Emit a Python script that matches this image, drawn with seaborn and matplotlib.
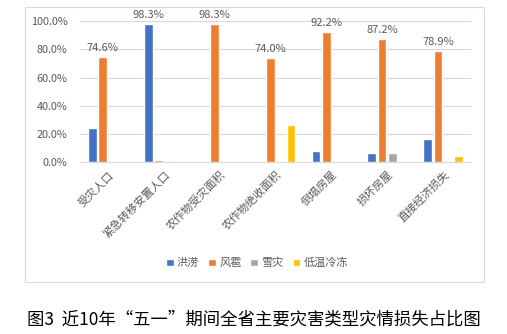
import pandas as pd
import numpy as np
import matplotlib as mpl
mpl.use('Agg')
import matplotlib.pyplot as plt
import seaborn as sns
from matplotlib.patches import Rectangle

categories = ['受灾人口', '紧急转移安置人口', '农作物受灾面积', '农作物绝收面积',
              '倒塌房屋', '损坏房屋', '直接经济损失']
hazards = ['洪涝', '风雹', '雪灾', '低温冷冻']
flood = [24.2, 98.3, 0.6, 0.0, 7.8, 6.4, 16.6]
wind = [74.6, 1.7, 98.3, 74.0, 92.2, 87.2, 78.9]
snow = [0.0, 0.0, 0.0, 0.0, 0.0, 6.4, 0.4]
cold = [0.6, 0.0, 0.6, 26.0, 0.0, 0.0, 4.0]
caption = '图3  近10年“五一”期间全省主要灾害类型灾情损失占比图'

colors = ['#4472C4', '#ED7D31', '#A5A5A5', '#FFC000']

rows = []
for h, vals in zip(hazards, [flood, wind, snow, cold]):
    for c, v in zip(categories, vals):
        rows.append({'category': c, 'hazard': h, 'value': v})
df = pd.DataFrame(rows)

sns.set_style('white')
plt.rcParams['font.family'] = ['Noto Sans CJK SC', 'DejaVu Sans']

fig = plt.figure(figsize=(5.07, 3.34), dpi=100)
ax = fig.add_axes([0.158, 0.515, 0.771, 0.421])

sns.barplot(data=df, x='category', y='value', hue='hazard', palette=colors,
            saturation=1, width=0.74, gap=0.15, ax=ax, legend=True)

ax.set_ylim(0, 100)
ax.set_yticks(np.arange(0, 101, 20))
ax.set_yticklabels([f'{t:.1f}%' for t in np.arange(0, 101, 20)],
                   fontsize=7.8, color='#595959')
ax.set_xlabel('')
ax.set_ylabel('')
ax.set_xticks(range(len(categories)))
ax.set_xticklabels(categories, rotation=45, ha='right', rotation_mode='anchor',
                   fontsize=8, color='#595959')
ax.tick_params(axis='y', length=0, pad=9)
ax.tick_params(axis='x', length=0, pad=5)
ax.grid(axis='y', color='#D9D9D9', linewidth=0.8)
ax.set_axisbelow(True)
for s in ['top', 'right', 'left']:
    ax.spines[s].set_visible(False)
ax.spines['bottom'].set_color('#D9D9D9')
ax.set_xlim(-0.5, len(categories) - 0.5)

# label the largest bar in each group
for i, c in enumerate(categories):
    vals = [flood[i], wind[i], snow[i], cold[i]]
    k = int(np.argmax(vals))
    x = ax.containers[k][i].get_x() + ax.containers[k][i].get_width() / 2
    ax.annotate(f'{vals[k]:.1f}%', (x, vals[k]), xytext=(0, 3),
                textcoords='offset points', ha='center', va='bottom',
                fontsize=8, color='#595959')

leg = ax.legend(loc='center', ncol=4, frameon=False, fontsize=8,
                handlelength=0.7, handleheight=0.7, handletextpad=0.3,
                columnspacing=0.8)
leg.set_bbox_to_anchor((0.507, 1 - 263 / 334), transform=fig.transFigure)
for t in leg.get_texts():
    t.set_color('#595959')

fig.patches.append(Rectangle((0.049, 0.156), 0.906, 0.823, transform=fig.transFigure,
                             fill=False, edgecolor='#D9D9D9', linewidth=0.8))

fig.text(0.5, 1 - 319 / 334, caption, ha='center', va='center', fontsize=12.5,
         color='black')

fig.savefig('out.png', dpi=100)
